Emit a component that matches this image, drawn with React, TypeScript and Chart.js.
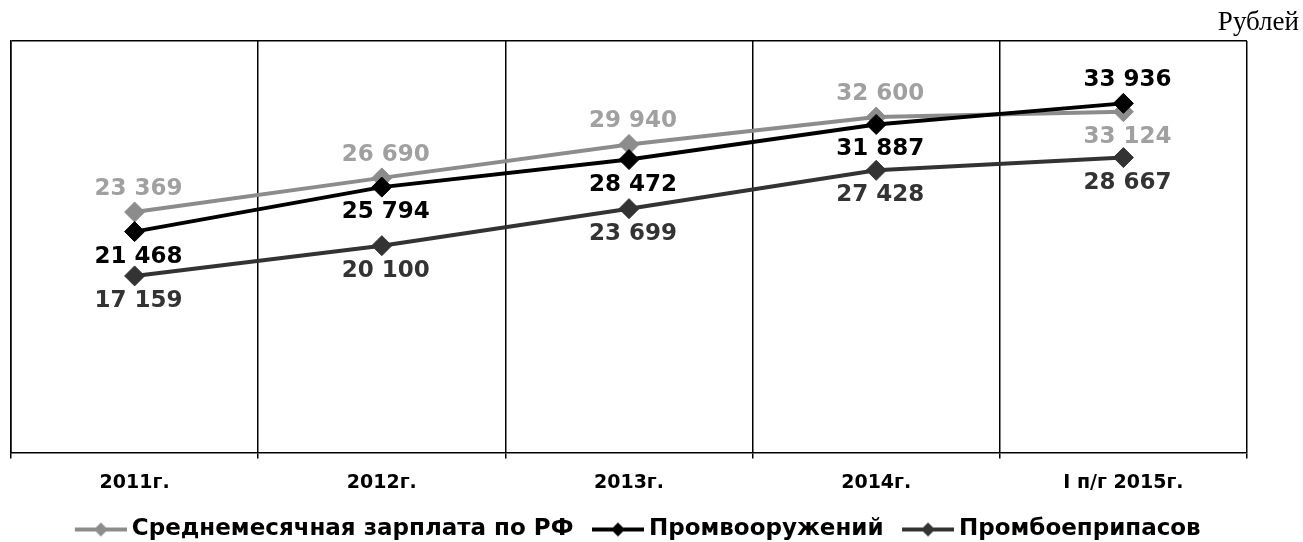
import { useEffect, useRef } from "react";
import { Chart, registerables } from "chart.js";

Chart.register(...registerables);

// ---- data ----
const categories = ["2011г.", "2012г.", "2013г.", "2014г.", "I п/г 2015г."];
const avgRF = [23369, 26690, 29940, 32600, 33124];
const weapons = [21468, 25794, 28472, 31887, 33936];
const ammo = [17159, 20100, 23699, 27428, 28667];
const seriesNames = [
  "Среднемесячная зарплата по РФ",
  "Промвооружений",
  "Промбоеприпасов",
];
const yMin = 0;
const yMax = 40000;
const unitLabel = "Рублей";

// ---- styles ----
const lineColors = ["#8c8c8c", "#000000", "#333333"];
const labelColors = ["#a0a0a0", "#000000", "#333333"];
const labelPlacement = [
  ["up", "up", "up", "up", "down"],
  ["down", "down", "down", "down", "up"],
  ["down", "down", "down", "down", "down"],
];
const SANS = '"DejaVu Sans", "Liberation Sans", Arial, sans-serif';
const LEGEND_BOX = 64;
const ICON_W = 77;

const fmt = (v: number) =>
  String(v).replace(/\B(?=(\d{3})+(?!\d))/g, " ");

function makeLegendIcon(color: string): HTMLCanvasElement {
  const c = document.createElement("canvas");
  const w = ICON_W;
  const h = 20;
  c.width = w;
  c.height = h;
  const g = c.getContext("2d")!;
  const x0 = w - 52;
  const cy = h / 2;
  g.strokeStyle = color;
  g.lineWidth = 4;
  g.beginPath();
  g.moveTo(x0, cy);
  g.lineTo(w, cy);
  g.stroke();
  const cx = x0 + 26;
  const r = 7;
  g.fillStyle = color;
  g.beginPath();
  g.moveTo(cx - r, cy);
  g.lineTo(cx, cy - r);
  g.lineTo(cx + r, cy);
  g.lineTo(cx, cy + r);
  g.closePath();
  g.fill();
  return c;
}

const valueLabelsPlugin = {
  id: "valueLabels",
  afterDatasetsDraw(chart: any) {
    const ctx = chart.ctx;
    ctx.save();
    ctx.font = `bold 23px ${SANS}`;
    ctx.textAlign = "center";
    ctx.textBaseline = "middle";
    chart.data.datasets.forEach((ds: any, di: number) => {
      const meta = chart.getDatasetMeta(di);
      meta.data.forEach((pt: any, i: number) => {
        const up = labelPlacement[di][i] === "up";
        ctx.fillStyle = labelColors[di];
        ctx.fillText(fmt(ds.data[i]), pt.x + 4, pt.y + (up ? -23 : 25));
      });
    });
    ctx.restore();
  },
};

const unitPlugin = {
  id: "unitLabel",
  afterDraw(chart: any) {
    const ctx = chart.ctx;
    ctx.save();
    ctx.font = '27px "Liberation Serif", "Times New Roman", serif';
    ctx.fillStyle = "#000";
    ctx.textAlign = "right";
    ctx.textBaseline = "alphabetic";
    ctx.fillText(unitLabel, chart.width - 4, 30);
    ctx.restore();
  },
};

export default function App() {
  const ref = useRef<HTMLCanvasElement>(null);

  useEffect(() => {
    if (!ref.current) return;
    const icons = lineColors.map(makeLegendIcon);
    const seriesData = [avgRF, weapons, ammo];
    const orders = [1, 0, 2];
    const chart = new Chart(ref.current, {
      type: "line",
      data: {
        labels: categories,
        datasets: seriesData.map((d, i) => ({
          label: seriesNames[i],
          data: d,
          borderColor: lineColors[i],
          backgroundColor: lineColors[i],
          pointBackgroundColor: lineColors[i],
          pointBorderColor: lineColors[i],
          borderWidth: 4,
          pointStyle: "rectRot",
          pointRadius: 10,
          pointBorderWidth: 1,
          tension: 0,
          fill: false,
          order: orders[i],
        })),
      },
      options: {
        responsive: false,
        animation: false,
        layout: { padding: { left: 10, right: 56, top: 41, bottom: -9 } },
        plugins: {
          tooltip: { enabled: false },
          legend: {
            position: "bottom",
            title: { display: true, text: " ", padding: 0, font: { size: 9 } },
            labels: {
              usePointStyle: true,
              pointStyleWidth: LEGEND_BOX,
              padding: 0,
              color: "#000",
              font: { family: SANS, weight: "bold", size: 23 },
              generateLabels: (ch: any) =>
                ch.data.datasets.map((ds: any, i: number) => ({
                  text: ds.label,
                  fillStyle: lineColors[i],
                  strokeStyle: lineColors[i],
                  lineWidth: 0,
                  pointStyle: icons[i],
                  hidden: false,
                  datasetIndex: i,
                  fontColor: "#000",
                })),
            },
          },
        },
        scales: {
          x: {
            offset: true,
            grid: {
              offset: true,
              color: "#000",
              lineWidth: 1.5,
              tickLength: 6,
            },
            border: { color: "#000", width: 1.5 },
            ticks: {
              color: "#000",
              font: { family: SANS, weight: "bold", size: 19 },
              padding: 13,
              maxRotation: 0,
              autoSkip: false,
            },
          },
          y: {
            min: yMin,
            max: yMax,
            ticks: { display: false, stepSize: yMax - yMin },
            grid: {
              drawTicks: false,
              lineWidth: 1.5,
              color: (c: any) =>
                c.tick && c.tick.value === yMax ? "#000" : "rgba(0,0,0,0)",
            },
            border: { color: "#000", width: 1.5 },
          },
        },
      },
      plugins: [valueLabelsPlugin, unitPlugin],
    } as any);
    return () => chart.destroy();
  }, []);

  return (
    <div style={{ position: "absolute", left: 0, top: 0, width: 1303, height: 542, background: "#fff" }}>
      <canvas ref={ref} width={1303} height={542} />
    </div>
  );
}
